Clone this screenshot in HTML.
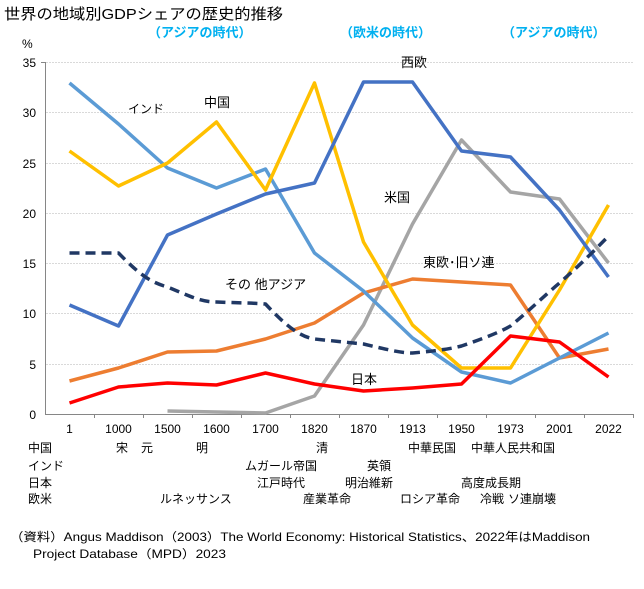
<!DOCTYPE html>
<html><head><meta charset="utf-8"><style>
body{margin:0;background:#fff;}
svg text{font-family:"Liberation Sans","Noto Sans CJK JP",sans-serif;}
</style></head><body>
<svg width="644" height="584" viewBox="0 0 644 584" xmlns="http://www.w3.org/2000/svg">
<text x="4" y="19" font-size="15" fill="#000" textLength="279" lengthAdjust="spacingAndGlyphs">世界の地域別GDPシェアの歴史的推移</text>
<g font-size="13" font-weight="bold" fill="#00B0F0">
<text x="148" y="37">（アジアの時代）</text>
<text x="340" y="37">（欧米の時代）</text>
<text x="502" y="37">（アジアの時代）</text>
</g>
<text x="22" y="48" font-size="12">%</text>
<g stroke="#d9d9d9" stroke-width="1" stroke-dasharray="2,1">
<line x1="46" y1="62.5" x2="634" y2="62.5"/><line x1="46" y1="112.5" x2="634" y2="112.5"/>
<line x1="46" y1="163.5" x2="634" y2="163.5"/><line x1="46" y1="213.5" x2="634" y2="213.5"/>
<line x1="46" y1="263.5" x2="634" y2="263.5"/><line x1="46" y1="313.5" x2="634" y2="313.5"/>
<line x1="46" y1="364.5" x2="634" y2="364.5"/>
</g>
<g stroke="#868686" stroke-width="1">
<line x1="45.5" y1="62" x2="45.5" y2="414"/><line x1="41" y1="62.5" x2="45" y2="62.5"/>
<line x1="45" y1="414.5" x2="634" y2="414.5"/>
<line x1="94.5" y1="414" x2="94.5" y2="418"/><line x1="143.5" y1="414" x2="143.5" y2="418"/>
<line x1="192.5" y1="414" x2="192.5" y2="418"/><line x1="241.5" y1="414" x2="241.5" y2="418"/>
<line x1="290.5" y1="414" x2="290.5" y2="418"/><line x1="339.5" y1="414" x2="339.5" y2="418"/>
<line x1="388.5" y1="414" x2="388.5" y2="418"/><line x1="437.5" y1="414" x2="437.5" y2="418"/>
<line x1="486.5" y1="414" x2="486.5" y2="418"/><line x1="535.5" y1="414" x2="535.5" y2="418"/>
<line x1="584.5" y1="414" x2="584.5" y2="418"/><line x1="633.5" y1="414" x2="633.5" y2="418"/>
</g>
<g font-size="12" text-anchor="end" fill="#000">
<text x="36" y="67">35</text><text x="36" y="117">30</text><text x="36" y="168">25</text>
<text x="36" y="218">20</text><text x="36" y="268">15</text><text x="36" y="318">10</text>
<text x="36" y="369">5</text><text x="36" y="419">0</text>
</g>
<g font-size="12" text-anchor="middle">
<text x="69.5" y="433">1</text><text x="118.5" y="433">1000</text><text x="167.5" y="433">1500</text>
<text x="216.5" y="433">1600</text><text x="265.5" y="433">1700</text><text x="314.5" y="433">1820</text>
<text x="363.5" y="433">1870</text><text x="412.5" y="433">1913</text><text x="461.5" y="433">1950</text>
<text x="510.5" y="433">1973</text><text x="559.5" y="433">2001</text><text x="608.5" y="433">2022</text>
</g>
<g fill="none" stroke-width="3.5" stroke-linejoin="round">
<polyline stroke="#A5A5A5" points="167.5,411 216.5,412 265.5,413 314.5,396 363.5,325 412.5,224 461.5,140 510.5,192 559.5,199 608.5,263"/>
<polyline stroke="#ED7D31" points="69.5,381 118.5,368 167.5,352 216.5,351 265.5,339 314.5,323 363.5,293 412.5,279 461.5,282 510.5,285 559.5,358 608.5,349"/>
<polyline stroke="#5B9BD5" points="69.5,83 118.5,124 167.5,168 216.5,188 265.5,169 314.5,253 363.5,291 412.5,338 461.5,372 510.5,383 559.5,358 608.5,333"/>
<polyline stroke="#FFC000" points="69.5,151 118.5,186 167.5,163 216.5,122 265.5,190 314.5,83 363.5,242 412.5,325 461.5,368 510.5,368 559.5,290 608.5,205"/>
<polyline stroke="#4472C4" points="69.5,305 118.5,326 167.5,235 216.5,214 265.5,194 314.5,183 363.5,82 412.5,82 461.5,151 510.5,157 559.5,210 608.5,277"/>
<path stroke="#203864" stroke-dasharray="10,6" d="M69.5,253 L118.5,253 C140,275 150,282 167.5,287 C190,296 200,302 216.5,302 C240,303 255,303 265.5,304 C285,325 300,337 314.5,339 L363.5,344 C385,349 400,353 412.5,353 C435,351 450,349 461.5,346 C485,338 500,332 510.5,326 C530,310 545,295 559.5,283 C580,265 595,250 608.5,236"/>
<polyline stroke="#FF0000" points="69.5,403 118.5,387 167.5,383 216.5,385 265.5,373 314.5,384 363.5,391 412.5,388 461.5,384 510.5,336 559.5,342 608.5,377"/>
</g>
<g font-size="13" fill="#000">
<text x="128" y="113" font-size="12">インド</text>
<text x="204" y="107">中国</text>
<text x="401" y="67">西欧</text>
<text x="384" y="202">米国</text>
<text x="423" y="267">東欧･旧ソ連</text>
<text x="225" y="289">その 他アジア</text>
<text x="351" y="384">日本</text>
</g>
<g font-size="12" fill="#000">
<text x="28" y="452">中国</text><text x="116" y="452">宋</text><text x="141" y="452">元</text><text x="196" y="452">明</text>
<text x="316" y="452">清</text><text x="408" y="452">中華民国</text><text x="471" y="452">中華人民共和国</text>
<text x="28" y="470">インド</text><text x="245" y="470">ムガール帝国</text><text x="367" y="470">英領</text>
<text x="28" y="487">日本</text><text x="257" y="487">江戸時代</text><text x="345" y="487">明治維新</text><text x="461" y="487">高度成長期</text>
<text x="28" y="503">欧米</text><text x="160" y="503">ルネッサンス</text><text x="303" y="503">産業革命</text><text x="400" y="503">ロシア革命</text>
<text x="480" y="503">冷戦</text><text x="508" y="503">ソ連崩壊</text>
</g>
<g font-size="12" fill="#000">
<text x="10" y="541" textLength="580" lengthAdjust="spacingAndGlyphs">（資料）Angus Maddison（2003）The World Economy: Historical Statistics、2022年はMaddison</text>
<text x="33" y="558" textLength="193" lengthAdjust="spacingAndGlyphs">Project Database（MPD）2023</text>
</g>
</svg>
</body></html>
